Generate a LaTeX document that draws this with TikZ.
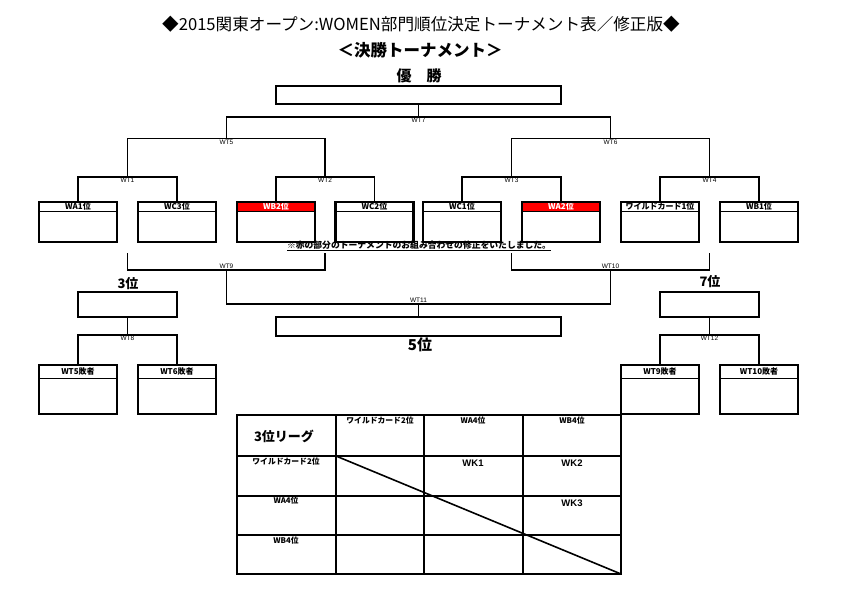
\documentclass[tikz,border=0pt]{standalone}
\usepackage{fontspec}
\setmainfont{Noto Sans CJK JP}
\newfontfamily\arial{Liberation Sans}
\usetikzlibrary{positioning}

\tikzset{
  slot/.style={draw, line width=2.2pt, minimum width=78pt, minimum height=#1, inner sep=0pt},
  head/.style={draw, line width=0.9pt, anchor=north, minimum width=78pt, minimum height=#1,
    inner sep=0pt, font=\bfseries\fontsize{8}{8}\selectfont},
  redhead/.style={head=#1, fill=red, text=white},
  wide/.style={draw, line width=2.4pt, minimum width=285pt, minimum height=#1, inner sep=0pt},
  mid/.style={draw, line width=2.4pt, minimum width=99pt, minimum height=25pt, inner sep=0pt},
  br/.style={line width=1.4pt},
  wt/.style={font=\arial\fontsize{6.5}{6.5}\selectfont, inner sep=1pt},
  rank/.style={font=\bfseries\fontsize{#1}{#1}\selectfont, inner sep=0pt},
  cell/.style={font=\bfseries\fontsize{7.8}{7.8}\selectfont, inner sep=0pt},
  wk/.style={font=\bfseries\arial\fontsize{9.5}{9.5}\selectfont, inner sep=0pt},
  grid/.style={line width=1.6pt}
}

\begin{document}
\begin{tikzpicture}[x=1pt, y=-1pt]

    \useasboundingbox (0,0) rectangle (841,595);

    % headings
    \node [font=\fontsize{16.6}{16.6}\selectfont] (title) at (421,24) {◆2015関東オープン:WOMEN部門順位決定トーナメント表／修正版◆};
    \node [rank=16.5] (sub) at (420,50) {＜決勝トーナメント＞};
    \node [rank=15] (champ) at (419,76) {優　勝};
    \node [wide=18pt] (win) at (418.5,95) {};

    % first round
    \node [head=10pt] (wa1h) at (78,201) {WA1位};
    \node [slot=40pt, below=0pt of wa1h.north] (wa1) {};
    \node [head=10pt] (wc3h) at (177,201) {WC3位};
    \node [slot=40pt, below=0pt of wc3h.north] (wc3) {};
    \node [redhead=10pt] (wb2h) at (276,201) {WB2位};
    \node [slot=40pt, below=0pt of wb2h.north] (wb2) {};
    \node [head=10pt] (wc2h) at (374.5,201) {WC2位};
    \node [slot=40pt, below=0pt of wc2h.north] (wc2) {};
    \node [head=10pt] (wc1h) at (462,201) {WC1位};
    \node [slot=40pt, below=0pt of wc1h.north] (wc1) {};
    \node [redhead=10pt] (wa2h) at (561,201) {WA2位};
    \node [slot=40pt, below=0pt of wa2h.north] (wa2) {};
    \node [head=10pt] (wildh) at (660,201) {ワイルドカード1位};
    \node [slot=40pt, below=0pt of wildh.north] (wild) {};
    \node [head=10pt] (wb1h) at (759,201) {WB1位};
    \node [slot=40pt, below=0pt of wb1h.north] (wb1) {};

    % upper bracket
    \coordinate (wt1) at (127.5,177);
    \coordinate (wt2) at (325,177);
    \coordinate (wt3) at (511.5,177);
    \coordinate (wt4) at (709.5,177);
    \coordinate (wt5) at (226.5,138.5);
    \coordinate (wt6) at (610.5,138.5);
    \coordinate (wt7) at (418.5,117);
    \draw [br] (wa1h.north) |- (wt1) -| (wc3h.north);
    \draw [br] (wb2h.north) |- (wt2) -| (wc2h.north);
    \draw [br] (wc1h.north) |- (wt3) -| (wa2h.north);
    \draw [br] (wildh.north) |- (wt4) -| (wb1h.north);
    \draw [br] (wt1) |- (wt5) -| (wt2);
    \draw [br] (wt3) |- (wt6) -| (wt4);
    \draw [br] (wt5) |- (wt7) -| (wt6);
    \draw [br] (wt7) -- (win.south);
    \node [wt, below] (wt1l) at (wt1) {WT1};
    \node [wt, below] (wt2l) at (wt2) {WT2};
    \node [wt, below] (wt3l) at (wt3) {WT3};
    \node [wt, below] (wt4l) at (wt4) {WT4};
    \node [wt, below] (wt5l) at (wt5) {WT5};
    \node [wt, below] (wt6l) at (wt6) {WT6};
    \node [wt, below] (wt7l) at (wt7) {WT7};

    \node [font=\bfseries\fontsize{8.8}{8.8}\selectfont, inner sep=0pt] (note) at (419,246) {\underline{※赤の部分のトーナメントのお組み合わせの修正をいたしました。}};

    % 5th place
    \coordinate (l9a) at (127.5,253);
    \coordinate (l9b) at (325,253);
    \coordinate (l10a) at (511.5,253);
    \coordinate (l10b) at (709.5,253);
    \coordinate (wt9) at (226.5,270);
    \coordinate (wt10) at (610.5,270);
    \coordinate (wt11) at (418.5,304);
    \node [wide=19pt] (fifth) at (418.5,326.5) {};
    \draw [br] (l9a) |- (wt9) -| (l9b);
    \draw [br] (l10a) |- (wt10) -| (l10b);
    \draw [br] (wt9) |- (wt11) -| (wt10);
    \draw [br] (wt11) -- (fifth.north);
    \node [wt, above] (wt9l) at (wt9) {WT9};
    \node [wt, above] (wt10l) at (wt10) {WT10};
    \node [wt, above] (wt11l) at (wt11) {WT11};
    \node [rank=15] (p5) at (420,345) {5位};

    % 3rd place
    \node [rank=13] (p3) at (128,284) {3位};
    \node [mid] (third) at (127.5,304.5) {};
    \node [head=14pt] (l5h) at (78,364) {WT5敗者};
    \node [slot=49pt, below=0pt of l5h.north] (l5) {};
    \node [head=14pt] (l6h) at (177,364) {WT6敗者};
    \node [slot=49pt, below=0pt of l6h.north] (l6) {};
    \coordinate (wt8) at (127.5,335);
    \draw [br] (third.south) -- (wt8);
    \draw [br] (l5h.north) |- (wt8) -| (l6h.north);
    \node [wt, below] (wt8l) at (wt8) {WT8};

    % 7th place
    \node [rank=13] (p7) at (710,282) {7位};
    \node [mid] (seventh) at (709.5,304.5) {};
    \node [head=14pt] (l9h) at (660,364) {WT9敗者};
    \node [slot=49pt, below=0pt of l9h.north] (l9) {};
    \node [head=14pt] (l10h) at (759,364) {WT10敗者};
    \node [slot=49pt, below=0pt of l10h.north] (l10) {};
    \coordinate (wt12) at (709.5,335);
    \draw [br] (seventh.south) -- (wt12);
    \draw [br] (l9h.north) |- (wt12) -| (l10h.north);
    \node [wt, below] (wt12l) at (wt12) {WT12};

    % 3rd place league
    \foreach \x in {336,424,523}
        \draw [grid] (\x,415) -- (\x,574);
    \foreach \y in {456,496,535}
        \draw [grid] (237,\y) -- (621,\y);
    \draw [grid] (336,456) -- (621,574);
    \draw [line width=2.4pt] (237,415) rectangle (621,574);
    \node [rank=13] (league) at (284,436) {3位リーグ};
    \node [cell] (c1) at (380,421) {ワイルドカード2位};
    \node [cell] (c2) at (473,421) {WA4位};
    \node [cell] (c3) at (572,421) {WB4位};
    \node [cell] (r1) at (286,462) {ワイルドカード2位};
    \node [cell] (r2) at (286,501) {WA4位};
    \node [cell] (r3) at (286,541) {WB4位};
    \node [wk] (wk1) at (473,463) {WK1};
    \node [wk] (wk2) at (572,463) {WK2};
    \node [wk] (wk3) at (572,503) {WK3};
\end{tikzpicture}
\end{document}
